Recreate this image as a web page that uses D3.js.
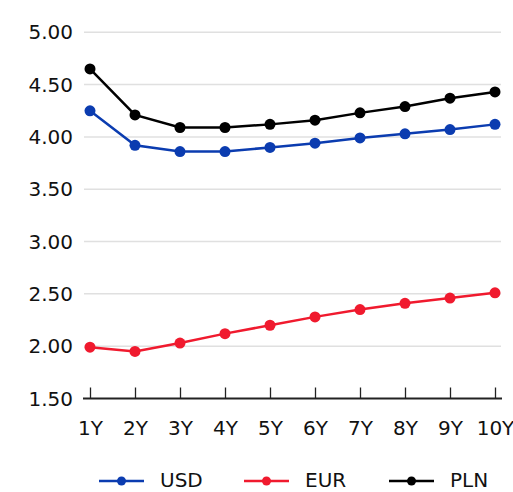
<!DOCTYPE html>
<html><head><meta charset="utf-8">
<script src="https://cdn.jsdelivr.net/npm/d3@7"></script>
<style>body{margin:0;background:#fff;} svg{display:block;font-family:"DejaVu Sans",sans-serif;}</style>
</head><body><svg id="c" width="513" height="492"></svg>
<script>
const categories = ["1Y","2Y","3Y","4Y","5Y","6Y","7Y","8Y","9Y","10Y"];
const usd = [4.25,3.92,3.86,3.86,3.90,3.94,3.99,4.03,4.07,4.12];
const eur = [1.99,1.95,2.03,2.12,2.20,2.28,2.35,2.41,2.46,2.51];
const pln = [4.65,4.21,4.09,4.09,4.12,4.16,4.23,4.29,4.37,4.43];
const yTicks = [1.5,2.0,2.5,3.0,3.5,4.0,4.5,5.0];
const seriesNames = ["USD","EUR","PLN"];
const seriesColors = ["#0b3cb0","#f01a2e","#000000"];

const svg = d3.select("#c");
const x = d3.scalePoint().domain(categories).range([90,495]);
const y = d3.scaleLinear().domain([1.5,5]).range([398.5,32.3]);

// gridlines
svg.append("g").selectAll("line").data(yTicks.filter(d=>d>1.5)).join("line")
  .attr("x1",84).attr("x2",501).attr("y1",d=>y(d)).attr("y2",d=>y(d))
  .attr("stroke","#e0e0e0").attr("stroke-width",1.5);

// y labels
svg.append("g").selectAll("text").data(yTicks).join("text")
  .attr("x",73).attr("y",d=>y(d)).attr("dy","0.35em").attr("text-anchor","end")
  .attr("font-size",20).attr("fill","#111").text(d=>d.toFixed(2));

// x axis
const xa = svg.append("g").attr("transform","translate(0,398.5)")
  .call(d3.axisBottom(x).tickSizeInner(-11).tickSizeOuter(0).tickPadding(22));
xa.select(".domain").attr("d","M83,0H502").attr("stroke","#222").attr("stroke-width",2.2);
xa.selectAll(".tick line").attr("stroke","#222").attr("stroke-width",1.3);
xa.selectAll(".tick text").attr("font-size",20).attr("fill","#111").attr("font-family","DejaVu Sans");

const data = [usd,eur,pln];
const line = d3.line().x((d,i)=>x(categories[i])).y(d=>y(d));
data.forEach((vals,k)=>{
  const g = svg.append("g");
  g.append("path").datum(vals).attr("d",line).attr("fill","none")
    .attr("stroke",seriesColors[k]).attr("stroke-width",2.5);
  g.selectAll("circle").data(vals).join("circle")
    .attr("cx",(d,i)=>x(categories[i])).attr("cy",d=>y(d)).attr("r",5.5)
    .attr("fill",seriesColors[k]);
});

// legend
const legX = [99,244,389];
const lg = svg.append("g").selectAll("g").data(seriesNames).join("g")
  .attr("transform",(d,i)=>`translate(${legX[i]},481)`);
lg.append("line").attr("x1",0).attr("x2",45).attr("y1",0).attr("y2",0)
  .attr("stroke",(d,i)=>seriesColors[i]).attr("stroke-width",2.5);
lg.append("circle").attr("cx",22.5).attr("cy",0).attr("r",4.5).attr("fill",(d,i)=>seriesColors[i]);
lg.append("text").attr("x",61).attr("y",-1).attr("dy","0.35em").attr("font-size",20)
  .attr("fill","#111").text(d=>d);
</script></body></html>
